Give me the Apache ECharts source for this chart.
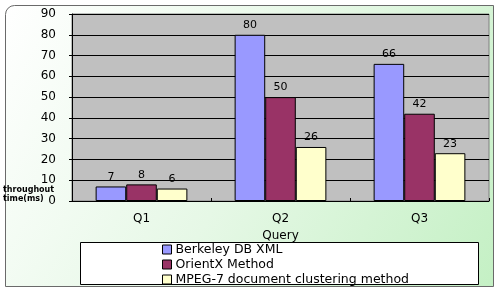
<!DOCTYPE html>
<html>
<head>
<meta charset="utf-8">
<script src="https://cdn.jsdelivr.net/npm/echarts@6/dist/echarts.min.js"></script>
<style>
  html, body { margin: 0; padding: 0; background: #fff; }
  #chart { width: 498px; height: 290px; }
</style>
</head>
<body>
<div id="chart"></div>
<script>
var categories = ['Q1', 'Q2', 'Q3'];
var berkeley = [7, 80, 66];
var orientx = [8, 50, 42];
var mpeg7 = [6, 26, 23];
var seriesNames = ['Berkeley DB XML', 'OrientX Method', 'MPEG-7 document clustering method'];
var yTicks = [0, 10, 20, 30, 40, 50, 60, 70, 80, 90];

var font = 'DejaVu Sans';
var colors = ['#9999ff', '#993366', '#ffffcc'];

function bar(name, data, color) {
    return {
        name: name,
        type: 'bar',
        data: data,
        barGap: '0%',
        barCategoryGap: '34%',
        itemStyle: { color: color, borderColor: '#000', borderWidth: 1 },
        label: {
            show: true,
            position: 'top',
            distance: 4,
            color: '#000',
            fontFamily: font,
            fontSize: 11
        }
    };
}

var chart = echarts.init(document.getElementById('chart'));
chart.setOption({
    animation: false,
    backgroundColor: '#fff',
    graphic: [
        {
            type: 'rect',
            z: -10,
            shape: { x: 5.5, y: 5.5, width: 488, height: 281, r: [9, 0, 0, 0] },
            style: {
                fill: new echarts.graphic.LinearGradient(0, 0, 1, 1, [
                    { offset: 0, color: '#ffffff' },
                    { offset: 0.5, color: '#e6f8e6' },
                    { offset: 1, color: '#c4f0c4' }
                ]),
                stroke: '#6a6a6a',
                lineWidth: 1
            }
        },
        {
            type: 'rect',
            z: 1,
            shape: { x: 80.5, y: 242.5, width: 398, height: 42 },
            style: { fill: '#fff', stroke: '#000', lineWidth: 1 }
        },
        {
            type: 'text',
            z: 5,
            left: 3,
            top: 185,
            style: {
                text: 'throughout\ntime(ms)',
                fontFamily: font,
                fontSize: 8,
                fontWeight: 'bold',
                lineHeight: 9,
                fill: '#000',
                align: 'center'
            }
        }
    ],
    grid: {
        left: 72,
        top: 14,
        right: 9,
        bottom: 89,
        show: true,
        backgroundColor: '#c0c0c0',
        borderColor: '#808080',
        borderWidth: 1
    },
    legend: {
        orient: 'vertical',
        left: 162,
        top: 243,
        padding: 0,
        itemWidth: 9,
        itemHeight: 9,
        itemGap: 2,
        icon: 'rect',
        z: 5,
        data: seriesNames,
        textStyle: { fontFamily: font, fontSize: 12.5, lineHeight: 11, color: '#000', padding: [0, 0, 0, -1] },
        itemStyle: { borderColor: '#000', borderWidth: 1 }
    },
    xAxis: {
        type: 'category',
        data: categories,
        name: 'Query',
        nameLocation: 'middle',
        nameGap: 28,
        nameTextStyle: { fontFamily: font, fontSize: 12, color: '#000' },
        axisLine: { lineStyle: { color: '#000', width: 1 } },
        axisTick: { show: true, inside: true, length: 3, lineStyle: { color: '#000' } },
        axisLabel: { fontFamily: font, fontSize: 12, color: '#000', margin: 12 }
    },
    yAxis: {
        type: 'value',
        min: yTicks[0],
        max: yTicks[yTicks.length - 1],
        interval: 10,
        axisLine: { show: true, lineStyle: { color: '#000', width: 1 } },
        axisTick: { show: true, length: 3, lineStyle: { color: '#000' } },
        axisLabel: { fontFamily: font, fontSize: 12, color: '#000', margin: 16 },
        splitLine: { lineStyle: { color: '#000', width: 1 } }
    },
    series: [
        bar(seriesNames[0], berkeley, colors[0]),
        bar(seriesNames[1], orientx, colors[1]),
        bar(seriesNames[2], mpeg7, colors[2])
    ]
});
</script>
</body>
</html>
